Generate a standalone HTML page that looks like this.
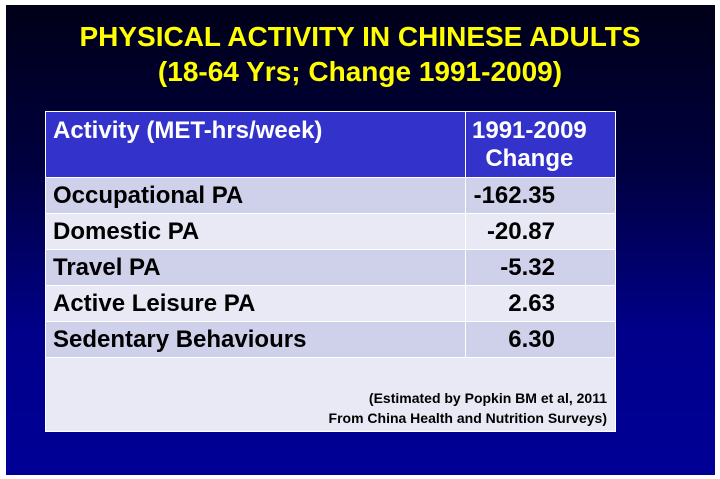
<!DOCTYPE html>
<html><head><meta charset="utf-8"><style>
html,body{margin:0;padding:0;width:720px;height:479px;background:#fff;overflow:hidden;font-family:"Liberation Sans",Arial,sans-serif;}
#bg{position:absolute;left:6px;top:5px;width:709px;height:470px;background:linear-gradient(#000018 0%,#000040 35%,#00008a 70%,#000096 100%);}
.t{position:absolute;left:0;width:720px;text-align:center;color:#ffff00;font-weight:bold;font-size:28px;}
table{position:absolute;left:45px;top:111px;width:570px;border-collapse:collapse;table-layout:fixed;}
td{font-weight:bold;font-size:24px;color:#000;padding:0 0 0 7px;height:35px;border:1px solid #fff;white-space:nowrap;}
tr.h td{background:#3333cc;color:#fff;height:60px;vertical-align:top;padding-top:5px;line-height:28px;}
tr.a td{background:#cfd0ea;}
tr.b td{background:#e8e9f5;}
td.v{text-align:right;padding-right:60px;}
</style></head><body>
<div id="bg"></div>
<div class="t" style="top:21px">PHYSICAL ACTIVITY IN CHINESE ADULTS</div>
<div class="t" style="top:56px">(18-64 Yrs; Change 1991-2009)</div>
<table>
<colgroup><col style="width:420px"><col style="width:150px"></colgroup>
<tr class="h"><td>Activity (MET-hrs/week)</td><td style="padding-left:6px">1991-2009<br>&nbsp;&nbsp;Change</td></tr>
<tr class="a"><td>Occupational PA</td><td class="v">-162.35</td></tr>
<tr class="b"><td>Domestic PA</td><td class="v">-20.87</td></tr>
<tr class="a"><td>Travel PA</td><td class="v">-5.32</td></tr>
<tr class="b"><td>Active Leisure PA</td><td class="v">2.63</td></tr>
<tr class="a"><td>Sedentary Behaviours</td><td class="v">6.30</td></tr>
<tr class="b"><td colspan="2" style="height:70px;text-align:right;vertical-align:bottom;font-size:14px;padding:0 8px 3px 0;line-height:20px;">(Estimated by Popkin BM et al, 2011<br>From China Health and Nutrition Surveys)</td></tr>
</table>
</body></html>
